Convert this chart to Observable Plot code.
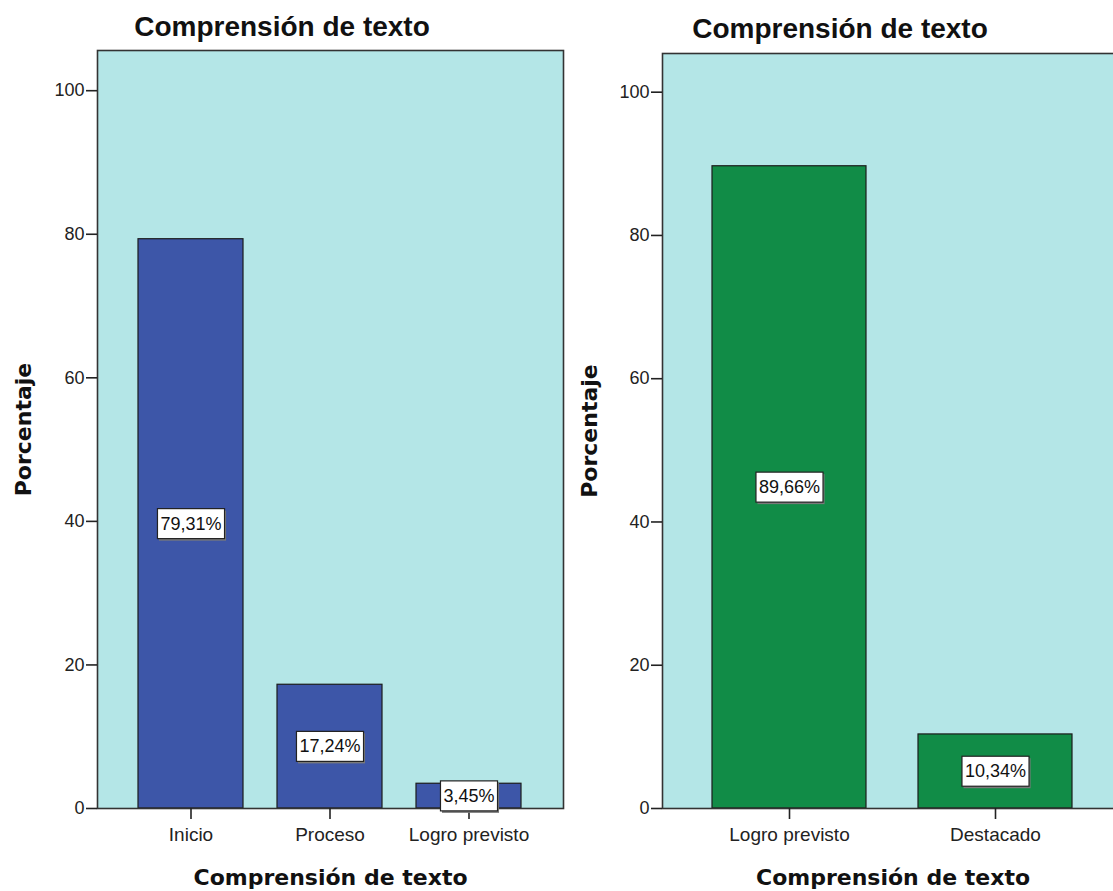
<!DOCTYPE html>
<html>
<head>
<meta charset="utf-8">
<script src="https://cdn.jsdelivr.net/npm/d3@7"></script>
<script src="https://cdn.jsdelivr.net/npm/@observablehq/plot@0.6"></script>
<style>
  html, body { margin: 0; padding: 0; background: #fff; }
  #root { position: relative; width: 1113px; height: 891px; overflow: hidden; background: #fff; }
  .panel { position: absolute; top: 0; }
  .title { position: absolute; text-align: center; font-family: "Liberation Sans", Arial, sans-serif; font-weight: bold; font-size: 28px; line-height: 28px; color: #111; white-space: nowrap; }
  .plotbox { position: absolute; top: 48px; left: 0; }
</style>
</head>
<body>
<div id="root"></div>
<script>
// ---- data ----
const titleText = "Comprensión de texto";
const yLabel = "Porcentaje";
const xLabel = "Comprensión de texto";
const yTicks = [0, 20, 40, 60, 80, 100];

const leftCategories = ["Inicio", "Proceso", "Logro previsto"];
const leftValues = [79.31, 17.24, 3.45];
const leftLabels = ["79,31%", "17,24%", "3,45%"];

const rightCategories = ["Logro previsto", "Destacado"];
const rightValues = [89.66, 10.34];
const rightLabels = ["89,66%", "10,34%"];

const root = document.getElementById("root");

function makePanel(cfg) {
  const data = cfg.categories.map((c, i) => ({cat: c, value: cfg.values[i], label: cfg.labels[i]}));
  const panel = document.createElement("div");
  panel.className = "panel";
  panel.style.left = cfg.left + "px";
  panel.style.width = cfg.width + "px";
  panel.style.height = "891px";
  root.appendChild(panel);

  const title = document.createElement("div");
  title.className = "title";
  title.textContent = titleText;
  title.style.left = cfg.titleLeft + "px";
  title.style.width = cfg.titleWidth + "px";
  title.style.top = cfg.titleTop + "px";
  panel.appendChild(title);

  const box = document.createElement("div");
  box.className = "plotbox";
  panel.appendChild(box);

  const chart = Plot.plot({
    width: cfg.width,
    height: 843,
    marginTop: cfg.marginTop,
    marginLeft: 97,
    marginRight: 3,
    marginBottom: 83,
    x: {domain: cfg.categories, paddingInner: cfg.paddingInner, paddingOuter: cfg.paddingOuter, axis: null},
    y: {domain: [0, cfg.yMax], axis: null},
    style: {fontFamily: "'Liberation Sans', Arial, sans-serif", fontSize: "18px", color: "#222", background: "transparent", overflow: "visible"},
    marks: [
      Plot.frame({fill: "#b4e6e7"}),
      Plot.barY(data, {x: "cat", y: "value", fill: cfg.color, stroke: "#1c1c1c", strokeWidth: 1.2}),
      Plot.frame({stroke: "#333", strokeWidth: 1.6}),
      Plot.axisY({ticks: yTicks, tickSize: 11, tickPadding: 2, strokeWidth: 1.6, fontSize: 18, label: null}),
      Plot.axisX({tickSize: 11, tickPadding: 8, strokeWidth: 1.6, fontSize: 19, label: null}),
      Plot.text(data, {x: "cat", y: d => d.value / 2, text: "label", fontSize: 18, fill: "#111"}),
      Plot.text([yLabel], {text: d => d, frameAnchor: "left", textAnchor: "middle", lineAnchor: "middle", rotate: -90, dx: cfg.yLabelDx,
        fontFamily: "'DejaVu Sans', sans-serif", fontWeight: "bold", fontSize: 22, fill: "#111"}),
      Plot.text([xLabel], {text: d => d, frameAnchor: "bottom", textAnchor: "middle", lineAnchor: "middle", dy: 69,
        fontFamily: "'DejaVu Sans', sans-serif", fontWeight: "bold", fontSize: 22, fill: "#111"})
    ]
  });
  box.appendChild(chart);

  // white boxes behind the percentage labels
  const ns = "http://www.w3.org/2000/svg";
  const labelSet = new Set(cfg.labels);
  Array.from(chart.querySelectorAll("text")).filter(t => labelSet.has(t.textContent)).forEach(t => {
    const bb = t.getBBox();
    const cy = bb.y + bb.height / 2;
    const w = bb.width + 6, h = 30;
    const x0 = bb.x - 3, y0 = cy - h / 2;
    const tr = t.getAttribute("transform");
    const shadow = document.createElementNS(ns, "rect");
    shadow.setAttribute("x", x0 + 1.5); shadow.setAttribute("y", y0 + 2);
    shadow.setAttribute("width", w); shadow.setAttribute("height", h);
    shadow.setAttribute("fill", "#7a7a7a");
    const r = document.createElementNS(ns, "rect");
    r.setAttribute("x", x0); r.setAttribute("y", y0);
    r.setAttribute("width", w); r.setAttribute("height", h);
    r.setAttribute("fill", "#fff"); r.setAttribute("stroke", "#222"); r.setAttribute("stroke-width", "1.2");
    if (tr) { shadow.setAttribute("transform", tr); r.setAttribute("transform", tr); }
    t.parentNode.insertBefore(shadow, t);
    t.parentNode.insertBefore(r, t);
  });
}

makePanel({
  categories: leftCategories, values: leftValues, labels: leftLabels,
  color: "#3d56a8", left: 0, width: 566, marginTop: 2, yMax: 105.6,
  paddingInner: 0.243, paddingOuter: 0.286, yLabelDx: -74,
  titleLeft: 0, titleWidth: 564, titleTop: 13
});

makePanel({
  categories: rightCategories, values: rightValues, labels: rightLabels,
  color: "#118c47", left: 565, width: 561, marginTop: 5, yMax: 105.4,
  paddingInner: 0.251, paddingOuter: 0.2415, yLabelDx: -73,
  titleLeft: 0, titleWidth: 550, titleTop: 15
});
</script>
</body>
</html>
